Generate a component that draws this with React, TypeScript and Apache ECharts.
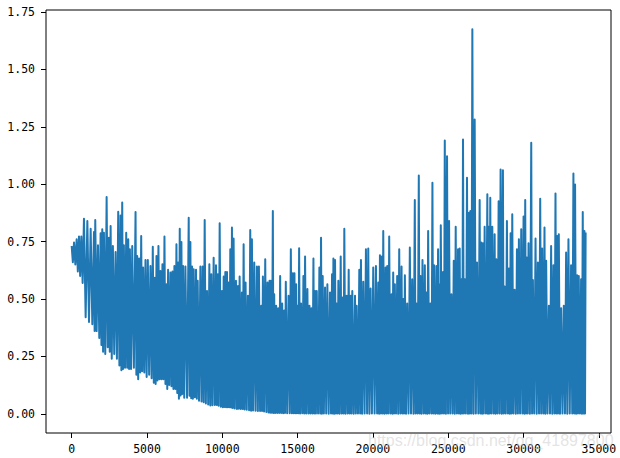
import React, { useEffect, useRef } from "react";
import * as echarts from "echarts";

// Training steps at which the visible spike tops were read
const peakSteps = [
  0, 155, 330, 485, 640, 815, 1040, 1260, 1480, 1565,
  1745, 1920, 2030, 2140, 2320, 2470, 2585, 2735, 2915, 3090,
  3245, 3355, 3465, 3620, 3755, 3865, 4020, 4240, 4350, 4480,
  4615, 4745, 4900, 5055, 5230, 5385, 5520, 5630, 5760, 5895,
  6025, 6160, 6290, 6400, 6555, 6690, 6820, 6955, 7065, 7175,
  7285, 7395, 7550, 7770, 7880, 7990, 8100, 8255, 8365, 8545,
  8695, 8830, 8985, 9140, 9270, 9425, 9580, 9690, 9825, 9980,
  10090, 10200, 10310, 10420, 10530, 10640, 10750, 10905, 11040, 11150,
  11300, 11415, 11545, 11700, 11855, 11965, 12120, 12295, 12430,
  12585, 12695, 12850, 13000, 13135, 13225, 13355, 13445, 13575, 13710,
  13840, 13975, 14105, 14215, 14395, 14550, 14680, 14790, 14900, 14990,
  15100, 15230, 15385, 15495, 15650, 15785, 15915, 16050, 16160, 16270,
  16445, 16555, 16665, 16820, 16975, 17150, 17285, 17375, 17485, 17595,
  17705, 17860, 17990, 18100, 18255, 18390, 18520, 18630, 18810, 18920,
  19095, 19205, 19360, 19535, 19690, 19845, 20020, 20200, 20355, 20465,
  20595, 20685, 20840, 20950, 21080, 21235, 21345, 21455, 21610, 21745,
  21900, 22010, 22120, 22275, 22450, 22605, 22780, 22890, 23045, 23155,
  23290, 23445, 23555, 23665, 23820, 23950, 24060, 24215, 24325, 24390,
  24505, 24655, 24770, 24920, 25055,
  25210, 25365, 25495, 25650, 25760, 25870, 25980, 26095, 26245, 26380,
  26470, 26600, 26755, 26910, 27085, 27195, 27305, 27415, 27595, 27680,
  27790, 27925, 28080, 28190, 28345, 28475, 28630, 28740, 28895, 29030,
  29140, 29250, 29405, 29560, 29690, 29845, 30000, 30110, 30220, 30330,
  30510, 30620, 30795, 30950, 31105, 31235, 31390, 31500, 31680, 31830,
  31985, 32120, 32230, 32340, 32495, 32670, 32825, 32980, 33155, 33310,
  33420, 33555, 33665, 33820, 33930, 34040, 34120,
];

// Loss at the spike tops
const peakLoss = [
  0.731, 0.746, 0.76, 0.772, 0.772, 0.85, 0.84, 0.806, 0.792, 0.844,
  0.734, 0.786, 0.804, 0.789, 0.944, 0.767, 0.818, 0.731, 0.705, 0.88,
  0.864, 0.92, 0.734, 0.789, 0.76, 0.717, 0.731, 0.879, 0.687, 0.676,
  0.774, 0.637, 0.67, 0.67, 0.644, 0.728, 0.593, 0.687, 0.731, 0.622,
  0.651, 0.772, 0.564, 0.627, 0.615, 0.62, 0.644, 0.738, 0.659, 0.806,
  0.748, 0.644, 0.641, 0.854, 0.748, 0.641, 0.63, 0.627, 0.579, 0.641,
  0.641, 0.844, 0.535, 0.651, 0.608, 0.68, 0.647, 0.608, 0.83, 0.535,
  0.598, 0.618, 0.618, 0.572, 0.717, 0.811, 0.763, 0.579, 0.557, 0.598,
  0.528, 0.738, 0.572, 0.514, 0.8, 0.76, 0.659, 0.641, 0.641,
  0.47, 0.598, 0.673, 0.572, 0.579, 0.579, 0.883, 0.521, 0.47, 0.46,
  0.6, 0.48, 0.45, 0.575, 0.514, 0.717, 0.612, 0.612, 0.564, 0.47,
  0.721, 0.48, 0.6, 0.685, 0.543, 0.47, 0.46, 0.676, 0.535, 0.535,
  0.637, 0.767, 0.6, 0.55, 0.564, 0.528, 0.608, 0.676, 0.67, 0.48,
  0.579, 0.685, 0.506, 0.806, 0.514, 0.627, 0.514, 0.535, 0.514, 0.47,
  0.627, 0.67, 0.575, 0.717, 0.72, 0.546, 0.637, 0.644, 0.572, 0.69,
  0.685, 0.796, 0.637, 0.644, 0.772, 0.521, 0.615, 0.564, 0.6, 0.717,
  0.641, 0.5, 0.603, 0.48, 0.724, 0.586, 0.931, 0.48, 1.038, 0.6,
  0.67, 0.647, 0.528, 0.796, 0.48, 1.006, 0.647, 0.644, 0.717, 0.564,
  0.821, 0.618, 1.19, 1.122, 0.84,
  0.521, 0.666, 0.815, 0.717, 0.72, 0.586, 1.195, 0.586, 1.028, 0.876,
  0.883, 1.675, 1.282, 0.659, 0.931, 0.746, 0.743, 0.815, 0.956, 0.815,
  0.941, 0.815, 0.782, 0.673, 0.926, 1.064, 1.061, 0.554, 0.84, 0.633,
  0.786, 0.869, 0.54, 0.717, 0.76, 0.804, 0.859, 0.931, 0.681, 0.743,
  1.18, 0.583, 0.763, 0.659, 0.937, 0.72, 0.811, 0.666, 0.47, 0.731,
  0.647, 0.96, 0.774, 0.782, 0.46, 0.47, 0.702, 0.76, 0.647, 1.047,
  0.999, 0.603, 0.6, 0.586, 0.879, 0.796, 0.79,
];

// Loss at the dips between consecutive spikes (lower edge of the band)
const troughLoss = [
  0.66, 0.65, 0.62, 0.6, 0.57, 0.42, 0.4, 0.39, 0.36, 0.36,
  0.33, 0.3, 0.27, 0.26, 0.29, 0.27, 0.24, 0.26, 0.24, 0.21,
  0.19, 0.195, 0.2, 0.2, 0.195, 0.195, 0.2, 0.17, 0.15, 0.18,
  0.185, 0.18, 0.16, 0.17, 0.155, 0.135, 0.13, 0.145, 0.15, 0.15,
  0.15, 0.13, 0.108, 0.125, 0.12, 0.108, 0.108, 0.09, 0.065, 0.08,
  0.086, 0.07, 0.07, 0.078, 0.068, 0.065, 0.072, 0.065, 0.057, 0.053,
  0.05, 0.045, 0.04, 0.036, 0.037, 0.038, 0.038, 0.035, 0.031, 0.028,
  0.029, 0.028, 0.028, 0.028, 0.027, 0.025, 0.023, 0.021, 0.022, 0.021,
  0.021, 0.019, 0.017, 0.015, 0.013, 0.014, 0.013, 0.012, 0.012,
  0.012, 0.01, 0.008, 0.006, 0.004, 0.004, 0.003, 0.003, 0.003, 0.003,
  0.003, 0.002, 0.003, 0.002, 0.002, 0.002, 0.002, 0.002, 0.002, 0.002,
  0.001, 0.002, 0.001, 0.001, 0.001, 0.001, 0.001, 0.001, 0.001, 0.001,
  0.001, 0.0, 0.001, 0.001, 0.0, 0.001, 0.001, 0.0, 0.001, 0.001,
  0.0, 0.001, 0.001, 0.0, 0.001, 0.001, 0.001, 0.0, 0.001, 0.001,
  0.001, 0.0, 0.001, 0.001, 0.0, 0.001, 0.001, 0.001, 0.0, 0.001,
  0.001, 0.0, 0.001, 0.001, 0.001, 0.0, 0.001, 0.001, 0.0, 0.001,
  0.001, 0.001, 0.0, 0.001, 0.001, 0.0, 0.001, 0.001, 0.001, 0.0,
  0.001, 0.001, 0.0, 0.001, 0.001, 0.001, 0.0, 0.001, 0.001, 0.0,
  0.001, 0.001, 0.0, 0.001, 0.001,
  0.001, 0.0, 0.001, 0.001, 0.0, 0.001, 0.001, 0.001, 0.0, 0.001,
  0.001, 0.0, 0.001, 0.001, 0.001, 0.0, 0.001, 0.001, 0.0, 0.001,
  0.001, 0.001, 0.0, 0.001, 0.001, 0.0, 0.001, 0.001, 0.001, 0.0,
  0.001, 0.001, 0.0, 0.001, 0.001, 0.001, 0.0, 0.001, 0.001, 0.0,
  0.001, 0.001, 0.0, 0.001, 0.001, 0.001, 0.0, 0.001, 0.001, 0.0,
  0.001, 0.001, 0.001, 0.0, 0.001, 0.001, 0.0, 0.001, 0.001, 0.001,
  0.0, 0.001, 0.001, 0.0, 0.001, 0.001,
];

const xTicks = [0, 5000, 10000, 15000, 20000, 25000, 30000, 35000];
const yTicks = [0, 0.25, 0.5, 0.75, 1.0, 1.25, 1.5, 1.75];
const watermark = "https://blog.csdn.net/qq_41897800";

export default function App() {
  const ref = useRef<HTMLDivElement>(null);

  useEffect(() => {
    if (!ref.current) return;
    const chart = echarts.init(ref.current, undefined, { renderer: "svg" });

    const data: number[][] = [];
    for (let i = 0; i < peakSteps.length; i++) {
      data.push([peakSteps[i], peakLoss[i]]);
      if (i < troughLoss.length && i + 1 < peakSteps.length) {
        data.push([(peakSteps[i] + peakSteps[i + 1]) / 2, troughLoss[i]]);
      }
    }

    const font = "DejaVu Sans Mono";
    chart.setOption({
      animation: false,
      backgroundColor: "#fff",
      grid: {
        left: 46,
        right: 9,
        top: 10,
        bottom: 25,
        show: true,
        borderColor: "#000",
        borderWidth: 1,
      },
      xAxis: {
        type: "value",
        min: -1705,
        max: 35805,
        splitLine: { show: false },
        axisLine: { show: false, onZero: false },
        axisTick: {
          show: true,
          customValues: xTicks,
          length: 5,
          lineStyle: { color: "#000", width: 1 },
        },
        axisLabel: {
          customValues: xTicks,
          color: "#000",
          fontFamily: font,
          fontSize: 11.5,
          margin: 10,
          formatter: (v: number) => String(v),
        },
      },
      yAxis: {
        type: "value",
        min: -0.0838,
        max: 1.7588,
        splitLine: { show: false },
        axisLine: { show: false, onZero: false },
        axisTick: {
          show: true,
          customValues: yTicks,
          length: 5,
          lineStyle: { color: "#000", width: 1 },
        },
        axisLabel: {
          customValues: yTicks,
          color: "#000",
          fontFamily: font,
          fontSize: 11.5,
          margin: 11,
          formatter: (v: number) => v.toFixed(2),
        },
      },
      series: [
        {
          type: "line",
          data,
          showSymbol: false,
          symbol: "none",
          lineStyle: { color: "#1f77b4", width: 2, join: "round", cap: "butt" },
          silent: true,
          z: 2,
        },
      ],
      graphic: [
        {
          type: "text",
          x: 368,
          y: 440,
          z: 100,
          silent: true,
          style: {
            text: watermark,
            fill: "rgba(205,205,205,0.55)",
            font: "16px 'Liberation Sans', Arial, sans-serif",
            verticalAlign: "middle",
            align: "left",
          },
        },
      ],
    });

    return () => chart.dispose();
  }, []);

  return (
    <div
      ref={ref}
      style={{ position: "fixed", left: 0, top: 0, width: 620, height: 458 }}
    />
  );
}
